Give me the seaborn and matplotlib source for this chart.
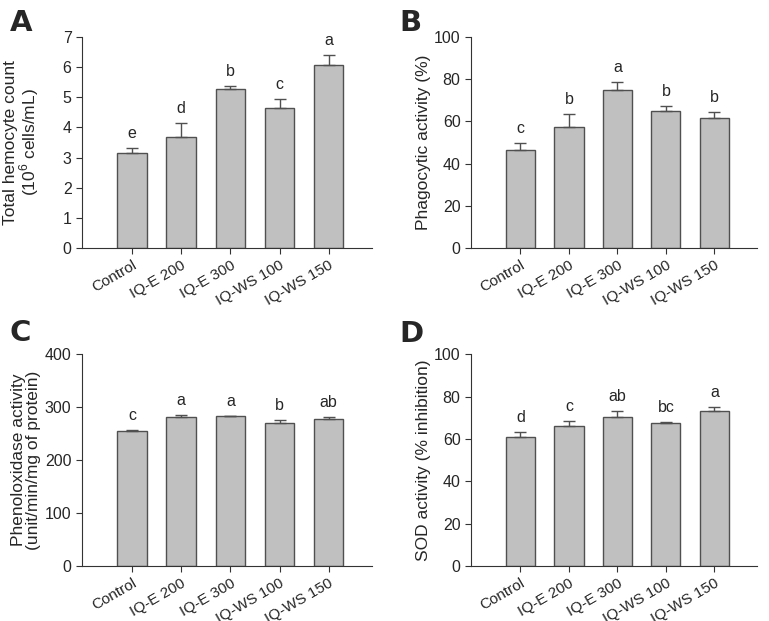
import matplotlib
matplotlib.use("Agg")
import matplotlib.pyplot as plt
import seaborn as sns
import pandas as pd

groups = ["Control", "IQ-E 200", "IQ-E 300", "IQ-WS 100", "IQ-WS 150"]

thc_mean = [3.14, 3.67, 5.26, 4.65, 6.07]
thc_err = [0.17, 0.49, 0.12, 0.30, 0.34]
thc_letters = ["e", "d", "b", "c", "a"]

phago_mean = [46.6, 57.3, 75.0, 64.8, 61.5]
phago_err = [3.1, 6.2, 3.7, 2.3, 3.1]
phago_letters = ["c", "b", "a", "b", "b"]

po_mean = [254.7, 281.0, 282.4, 269.8, 276.7]
po_err = [1.5, 5.0, 1.5, 6.0, 5.5]
po_letters = ["c", "a", "a", "b", "ab"]

sod_mean = [60.7, 66.0, 70.4, 67.5, 73.0]
sod_err = [2.5, 2.4, 3.0, 0.5, 2.0]
sod_letters = ["d", "c", "ab", "bc", "a"]

sns.set_style("ticks")
plt.rcParams["font.family"] = ["Liberation Sans", "DejaVu Sans"]
plt.rcParams["mathtext.fontset"] = "custom"
plt.rcParams["mathtext.rm"] = "Liberation Sans"

BAR = "#c0c0c0"
EDGE = "#505050"

fig = plt.figure(figsize=(7.69, 6.21), dpi=100)

panels = [
    ("A", [0.1066, 0.6006, 0.377, 0.340], 1.13, thc_mean, thc_err, thc_letters,
     "Total hemocyte count\n(10$^{6}$ cells/mL)", (0, 7), range(0, 8)),
    ("B", [0.6125, 0.6006, 0.372, 0.340], 1.13, phago_mean, phago_err, phago_letters,
     "Phagocytic activity (%)", (0, 100), range(0, 101, 20)),
    ("C", [0.1066, 0.0886, 0.377, 0.341], 1.165, po_mean, po_err, po_letters,
     "Phenoloxidase activity\n(unit/min/mg of protein)", (0, 400), range(0, 401, 100)),
    ("D", [0.6125, 0.0886, 0.372, 0.341], 1.16, sod_mean, sod_err, sod_letters,
     "SOD activity (% inhibition)", (0, 100), range(0, 101, 20)),
]

for tag, rect, tag_y, mean, err, letters, ylabel, ylim, yticks in panels:
    ax = fig.add_axes(rect)
    df = pd.DataFrame({"group": groups, "value": mean})
    sns.barplot(data=df, x="group", y="value", color=BAR, edgecolor=EDGE,
                linewidth=1.0, width=0.6, errorbar=None, saturation=1, ax=ax)
    ax.errorbar(range(len(groups)), mean, yerr=[[0] * len(err), err], fmt="none",
                ecolor=EDGE, elinewidth=1.0, capsize=4, capthick=1.0, zorder=1)
    for i, (m, e, lab) in enumerate(zip(mean, err, letters)):
        ax.annotate(lab, (i, m + e), xytext=(0, 5), textcoords="offset points",
                    ha="center", va="bottom", fontsize=11.5)
    ax.set_xlim(-1.02, 4.88)
    ax.set_ylim(*ylim)
    ax.set_yticks(list(yticks))
    ax.set_xlabel("")
    ax.set_ylabel(ylabel, fontsize=12.5, linespacing=1.0)
    ax.yaxis.set_label_coords(-0.14, 0.5)
    ax.set_xticks(range(len(groups)))
    ax.set_xticklabels(groups, rotation=30, ha="right", rotation_mode="anchor")
    ax.tick_params(axis="y", labelsize=11.5)
    ax.tick_params(axis="x", labelsize=11)
    ax.tick_params(axis="both", direction="out", length=4, width=0.8,
                   color="#333333")
    sns.despine(ax=ax)
    for s in ("left", "bottom"):
        ax.spines[s].set_linewidth(0.8)
        ax.spines[s].set_color("#333333")
    ax.text(-0.25, tag_y, tag, transform=ax.transAxes, fontsize=21,
            fontweight="heavy", family="DejaVu Sans", ha="left", va="top")

fig.savefig("out.png", dpi=100)
